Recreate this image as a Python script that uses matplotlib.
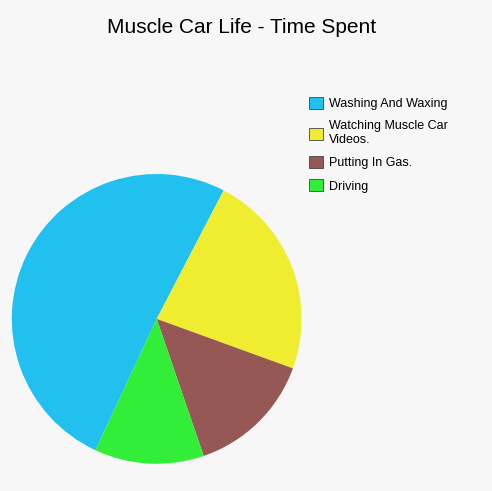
import matplotlib.pyplot as plt
from matplotlib.patches import Patch

labels = ["Washing And Waxing", "Watching Muscle Car\nVideos.", "Putting In Gas.", "Driving"]
values = [50.7, 22.9, 14.2, 12.2]
colors = ["#22c0ee", "#f0ed30", "#965855", "#33ee38"]

fig = plt.figure(figsize=(4.92, 4.91), dpi=100, facecolor="#f7f7f7")
ax = fig.add_axes([0.024, 0.055, 0.589, 0.591])
ax.set_facecolor("#f7f7f7")
ax.pie(values, colors=colors, startangle=-115, counterclock=False,
       wedgeprops=dict(linewidth=0))
ax.set_xlim(-1, 1)
ax.set_ylim(-1, 1)
ax.set_aspect("equal")

fig.text(0.49, 0.945, "Muscle Car Life - Time Spent", ha="center", va="center",
         fontsize=15, family="Liberation Sans")

handles = [Patch(facecolor=c, edgecolor="#444444", linewidth=0.6) for c in colors]
fig.legend(handles, labels, loc="upper left", bbox_to_anchor=(0.605, 0.825),
           frameon=False, prop={"family": "Liberation Sans", "size": 9},
           handlelength=1.1, handleheight=1.1, handletextpad=0.5, labelspacing=0.8)

fig.savefig("out.png", facecolor=fig.get_facecolor())
